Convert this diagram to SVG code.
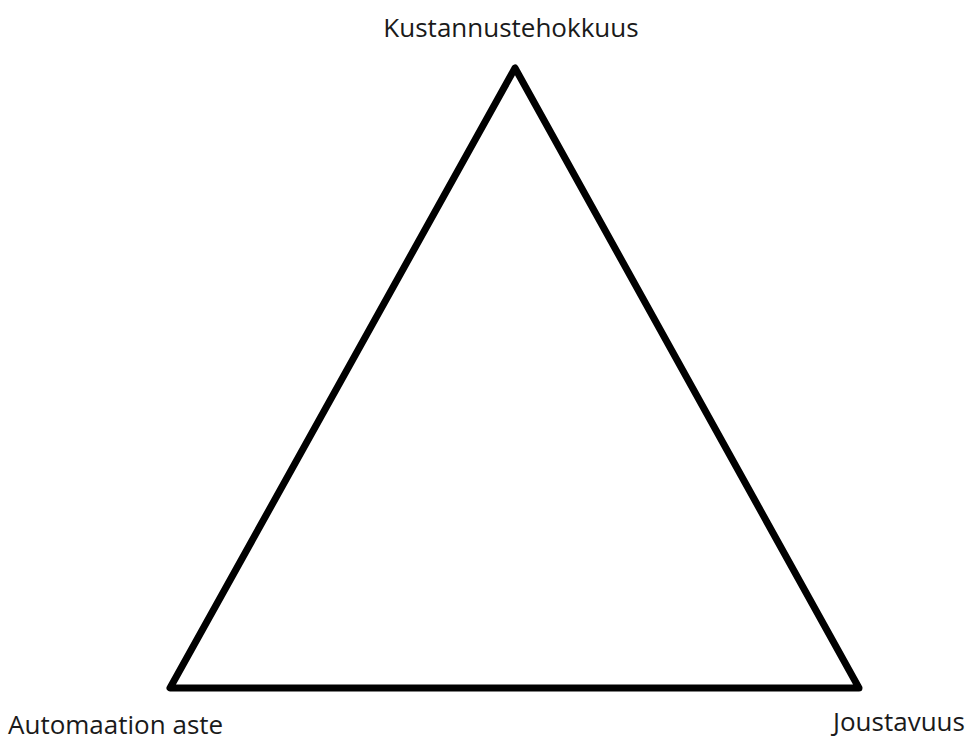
<svg xmlns="http://www.w3.org/2000/svg" width="971" height="736" viewBox="0 0 971 736">
<style>
.lbl{font-family:"Open Sans","Noto Sans",sans-serif;font-size:26px;fill:#1a1a1a}
.tri{fill:none;stroke:#000;stroke-width:7;stroke-linejoin:round}
</style>
<rect width="971" height="736" fill="#fff"/>
<g id="connectors">
<polygon class="tri" points="515,68 170,688 859,688"/>
</g>
<g id="top"><text class="lbl" x="511" y="37" text-anchor="middle">Kustannustehokkuus</text></g>
<g id="left"><text class="lbl" x="8" y="734">Automaation aste</text></g>
<g id="right"><text class="lbl" x="833" y="731">Joustavuus</text></g>
</svg>
